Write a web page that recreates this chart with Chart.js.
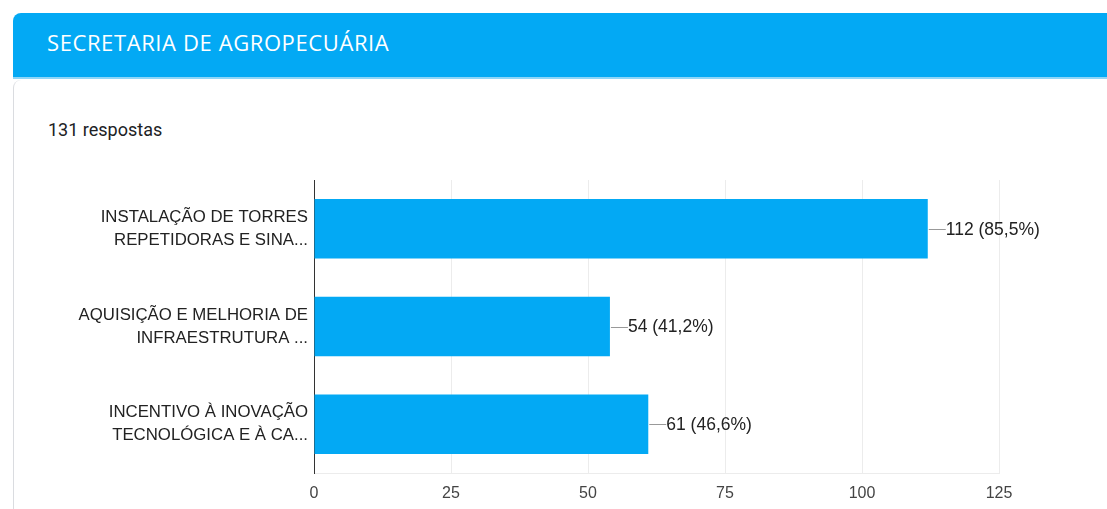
<!DOCTYPE html>
<html>
<head>
<meta charset="utf-8">
<script src="https://cdn.jsdelivr.net/npm/chart.js@4"></script>
<style>
  body { margin: 0; background: #fff; width: 1107px; height: 509px; overflow: hidden; position: relative; font-family: Roboto, "Liberation Sans", sans-serif; }
  .header { position: absolute; left: 13px; top: 13px; width: 1110px; height: 66px; background: #03a9f4; border-top-left-radius: 8px; border-bottom: 2px solid #8fd6f8; box-sizing: border-box; }
  .header span { position: absolute; left: 34px; top: 14px; color: #fff; font-family: "Open Sans", Roboto, sans-serif; font-size: 22px; letter-spacing: 0.6px; }
  .card { position: absolute; left: 13px; top: 80px; width: 1110px; height: 440px; border-left: 1px solid #dadce0; border-top-left-radius: 8px; box-sizing: border-box; }
  .count { position: absolute; left: 48px; top: 119px; font-size: 18px; color: #202124; }
  #wrap { position: absolute; left: 0; top: 160px; width: 1107px; height: 349px; }
</style>
</head>
<body>
<div class="header"><span>SECRETARIA DE AGROPECUÁRIA</span></div>
<div class="card"></div>
<div class="count">131 respostas</div>
<div id="wrap"><canvas id="chart"></canvas></div>
<script>
// dados
const categories = [
  ['INSTALAÇÃO DE TORRES', 'REPETIDORAS E SINA...'],
  ['AQUISIÇÃO E MELHORIA DE', 'INFRAESTRUTURA ...'],
  ['INCENTIVO À INOVAÇÃO', 'TECNOLÓGICA E À CA...']
];
const counts = [112, 54, 61];
const percents = ['85,5%', '41,2%', '46,6%'];
const xTicks = [0, 25, 50, 75, 100, 125];

// rótulo "—112 (85,5%)" ao lado de cada barra
const valueLabels = {
  id: 'valueLabels',
  afterDatasetsDraw(chart) {
    const ctx = chart.ctx;
    const meta = chart.getDatasetMeta(0);
    ctx.save();
    ctx.font = '17.5px "Liberation Sans", Arial, sans-serif';
    ctx.textBaseline = 'middle';
    meta.data.forEach((bar, i) => {
      const x = bar.x, y = bar.y;
      ctx.strokeStyle = '#999';
      ctx.lineWidth = 1;
      ctx.beginPath();
      ctx.moveTo(x + 1, Math.round(y) + 0.5);
      ctx.lineTo(x + 18, Math.round(y) + 0.5);
      ctx.stroke();
      ctx.fillStyle = '#222';
      ctx.fillText(counts[i] + ' (' + percents[i] + ')', x + 18, y + 1);
    });
    ctx.restore();
  }
};

new Chart(document.getElementById('chart'), {
  type: 'bar',
  data: {
    labels: categories,
    datasets: [{
      data: counts,
      backgroundColor: '#03a9f4',
      barPercentage: 0.61,
      categoryPercentage: 1
    }]
  },
  options: {
    indexAxis: 'y',
    responsive: true,
    maintainAspectRatio: false,
    animation: false,
    layout: { padding: { top: 20, right: 108, left: 0, bottom: 0 } },
    plugins: { legend: { display: false }, tooltip: { enabled: false } },
    scales: {
      x: {
        min: 0,
        max: 125,
        afterBuildTicks(scale) { scale.ticks = xTicks.map(v => ({ value: v })); },
        afterFit(scale) { scale.height = 36; scale.paddingLeft = 0; scale.paddingRight = 0; },
        grid: { color: '#ececec', drawTicks: false },
        border: { display: true, color: '#ececec' },
        ticks: { color: '#444', padding: 11, font: { family: '"Liberation Sans", Arial, sans-serif', size: 16 } }
      },
      y: {
        afterFit(scale) { scale.width = 314; scale.paddingTop = 0; scale.paddingBottom = 0; },
        grid: { display: false, drawTicks: false },
        border: { display: true, color: '#333', width: 1 },
        ticks: { color: '#222', padding: 6, font: { family: '"Liberation Sans", Arial, sans-serif', size: 16.8, lineHeight: 1.37 } }
      }
    }
  },
  plugins: [valueLabels]
});
</script>
</body>
</html>
